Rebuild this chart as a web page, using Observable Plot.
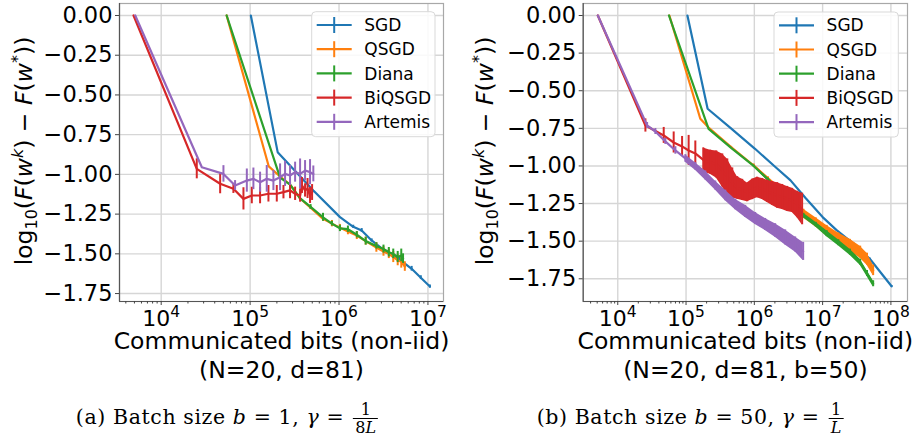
<!DOCTYPE html>
<html><head><meta charset="utf-8">
<script src="https://cdn.jsdelivr.net/npm/d3@7"></script>
<script src="https://cdn.jsdelivr.net/npm/@observablehq/plot@0.6"></script>
<style>
html,body{margin:0;padding:0;background:#fff}
body{width:915px;height:437px;overflow:hidden;position:relative;font-family:"DejaVu Sans"}
#a{position:absolute;left:0;top:0}
#b{position:absolute;left:457px;top:0}
.cap{position:absolute;top:401px;font-family:"DejaVu Serif";font-size:20.5px;letter-spacing:0.6px;white-space:nowrap;transform:translateX(-50%);line-height:26px}
.cap i{font-style:italic}
.frac{display:inline-flex;flex-direction:column;align-items:center;vertical-align:middle;font-size:16px;line-height:17px;margin-left:2px;letter-spacing:0}
.frac .num{padding:0 2px}
.frac .den{border-top:1px solid #000;padding:0 2px}
</style>
</head><body>
<div id="a"></div><div id="b"></div>
<div class="cap" style="left:227px">(a) Batch size <i>b</i> = 1, <i>γ</i> = <span class="frac"><span class="num">1</span><span class="den">8<i>L</i></span></span></div>
<div class="cap" style="left:690px">(b) Batch size <i>b</i> = 50, <i>γ</i> = <span class="frac"><span class="num">1</span><span class="den"><i>L</i></span></span></div>
<script>
// ---------- shared ----------
const methods = ["SGD", "QSGD", "Diana", "BiQSGD", "Artemis"];
const colors = ["#1f77b4", "#ff7f0e", "#2ca02c", "#d62728", "#9467bd"];
const yTicks = [0, -0.25, -0.5, -0.75, -1, -1.25, -1.5, -1.75];
const xTicksA = [1e4, 1e5, 1e6, 1e7];
const xTicksB = [1e4, 1e5, 1e6, 1e7, 1e8];
const xLabel = "Communicated bits (non-iid)";
const subLabelA = "(N=20, d=81)";
const subLabelB = "(N=20, d=81, b=50)";

// ---------- panel (a): batch size 1 ----------
// lx = log10(communicated bits), y = log10 loss gap, e = error-bar half height
const a_SGD_lx = [5.008, 5.31, 5.711, 6.011, 6.16, 6.255, 6.367, 6.536, 6.68, 6.817, 6.92, 7.022];
const a_SGD_y  = [0, -0.86, -1.101, -1.269, -1.33, -1.353, -1.416, -1.49, -1.535, -1.594, -1.65, -1.706];
const a_SGD_e  = [0, 0, 0, 0, 0.01, 0.012, 0.01, 0.012, 0.012, 0.015, 0.012, 0.01];

const a_QSGD_lx = [4.736, 5.21, 5.33, 5.45, 5.56, 5.68, 5.82, 5.92, 6.01, 6.1, 6.2, 6.3, 6.42, 6.5, 6.56, 6.61, 6.66, 6.7, 6.74];
const a_QSGD_y  = [0, -0.95, -1.01, -1.065, -1.15, -1.21, -1.28, -1.31, -1.335, -1.36, -1.385, -1.42, -1.46, -1.485, -1.5, -1.52, -1.54, -1.55, -1.58];
const a_QSGD_e  = [0, 0, 0, 0, 0, 0.01, 0.015, 0.02, 0.02, 0.02, 0.025, 0.025, 0.03, 0.03, 0.03, 0.035, 0.035, 0.04, 0.03];

const a_Diana_lx = [4.736, 5.337, 5.45, 5.56, 5.68, 5.82, 5.92, 6.01, 6.1, 6.2, 6.3, 6.42, 6.5, 6.56, 6.61, 6.66, 6.7, 6.72];
const a_Diana_y  = [0, -1.02, -1.065, -1.15, -1.205, -1.27, -1.31, -1.34, -1.345, -1.38, -1.42, -1.45, -1.47, -1.49, -1.5, -1.52, -1.51, -1.53];
const a_Diana_e  = [0, 0, 0, 0.01, 0.015, 0.025, 0.015, 0.02, 0.02, 0.02, 0.025, 0.02, 0.025, 0.03, 0.03, 0.035, 0.04, 0.03];

const a_BiQSGD_lx = [3.689, 4.40, 4.663, 4.812, 4.925, 5.019, 5.112, 5.206, 5.30, 5.375, 5.449, 5.506, 5.562, 5.584, 5.618, 5.646, 5.674, 5.697];
const a_BiQSGD_y  = [0, -0.965, -1.059, -1.09, -1.154, -1.133, -1.133, -1.122, -1.122, -1.112, -1.101, -1.122, -1.133, -1.07, -1.101, -1.089, -1.133, -1.114];
const a_BiQSGD_e  = [0, 0.063, 0.063, 0.03, 0.07, 0.052, 0.052, 0.052, 0.052, 0.042, 0.052, 0.042, 0.042, 0.05, 0.042, 0.063, 0.05, 0.05];

const a_Artemis_lx = [3.708, 4.457, 4.70, 4.831, 4.963, 5.037, 5.112, 5.187, 5.262, 5.337, 5.393, 5.449, 5.506, 5.562, 5.618, 5.674, 5.711];
const a_Artemis_y  = [0, -0.955, -0.997, -1.07, -1.039, -1.028, -1.049, -1.028, -1.039, -1.018, -0.997, -1.007, -0.986, -0.997, -0.976, -0.986, -0.997];
const a_Artemis_e  = [0, 0, 0.052, 0.031, 0.073, 0.068, 0.063, 0.084, 0.063, 0.084, 0.079, 0.063, 0.063, 0.094, 0.063, 0.079, 0.05];

// ---------- panel (b): batch size 50 ----------
const b_SGD_lx = [5.02, 5.316, 5.65, 6.01, 6.3, 6.53, 6.75, 7.0, 7.2, 7.45, 7.69, 8.01];
const b_SGD_y  = [0, -0.62, -0.747, -0.886, -1.004, -1.096, -1.213, -1.34, -1.425, -1.517, -1.617, -1.80];
const b_SGD_e  = [0, 0, 0, 0, 0, 0, 0, 0, 0, 0.005, 0.005, 0.005];

const b_QSGD_lx = [4.756, 5.209, 5.33, 5.66, 5.99, 6.2, 6.43, 6.58, 6.72, 6.9, 7.06, 7.23, 7.4, 7.55, 7.65, 7.74];
const b_QSGD_y  = [0, -0.686, -0.745, -0.875, -0.997, -1.087, -1.185, -1.25, -1.318, -1.375, -1.43, -1.48, -1.528, -1.573, -1.62, -1.694];
const b_QSGD_e  = [0, 0, 0, 0.005, 0.01, 0.015, 0.02, 0.025, 0.03, 0.03, 0.035, 0.035, 0.04, 0.04, 0.04, 0.035];
const b_QSGD_denseFrom = 5.99;

const b_Diana_lx = [4.75, 5.33, 5.66, 5.99, 6.2, 6.43, 6.58, 6.72, 6.9, 7.06, 7.23, 7.4, 7.55, 7.65, 7.74];
const b_Diana_y  = [0, -0.753, -0.88, -1.0, -1.09, -1.19, -1.26, -1.33, -1.39, -1.45, -1.51, -1.573, -1.64, -1.715, -1.783];
const b_Diana_e  = [0, 0, 0, 0.005, 0.01, 0.01, 0.015, 0.015, 0.015, 0.02, 0.02, 0.02, 0.02, 0.02, 0.02];
const b_Diana_denseFrom = 5.99;

const b_BiQSGD_lx = [3.708, 4.405, 4.673, 4.819, 4.942, 5.038, 5.136, 5.253, 5.355, 5.443, 5.531, 5.604, 5.677, 5.75, 5.823, 5.896, 5.969, 6.042, 6.115, 6.188, 6.262, 6.335, 6.408, 6.481, 6.554, 6.627, 6.70];
const b_BiQSGD_y  = [0, -0.731, -0.797, -0.844, -0.87, -0.897, -0.917, -0.96, -0.975, -0.99, -1.03, -1.073, -1.113, -1.146, -1.159, -1.176, -1.156, -1.143, -1.153, -1.169, -1.183, -1.196, -1.206, -1.219, -1.229, -1.256, -1.286];
const b_BiQSGD_e  = [0, 0.044, 0.053, 0.07, 0.066, 0.1, 0.083, 0.08, 0.08, 0.09, 0.11, 0.12, 0.1, 0.075, 0.07, 0.062, 0.068, 0.068, 0.07, 0.074, 0.08, 0.085, 0.083, 0.083, 0.08, 0.088, 0.105];
const b_BiQSGD_denseFrom = 5.25;

const b_Artemis_lx = [3.708, 4.43, 4.551, 4.697, 4.844, 4.99, 5.136, 5.282, 5.428, 5.575, 5.721, 5.867, 6.013, 6.159, 6.305, 6.452, 6.598, 6.715];
const b_Artemis_y  = [0, -0.731, -0.771, -0.837, -0.897, -0.95, -1.003, -1.063, -1.13, -1.196, -1.256, -1.302, -1.349, -1.389, -1.429, -1.475, -1.522, -1.568];
const b_Artemis_e  = [0, 0.02, 0.02, 0.02, 0.025, 0.025, 0.025, 0.03, 0.03, 0.035, 0.035, 0.04, 0.04, 0.04, 0.045, 0.05, 0.05, 0.06];
const b_Artemis_denseFrom = 4.99;

// ---------- build ----------
function rowsOf(lx, y, e) { return lx.map((v, i) => ({x: Math.pow(10, v), y: y[i], e: e[i]})); }

function minorTicks(lo, hi) {
  const out = [];
  for (let k = Math.floor(lo); k <= Math.ceil(hi); k++)
    for (let m = 2; m <= 9; m++) { const v = m * Math.pow(10, k); if (Math.log10(v) >= lo && Math.log10(v) <= hi) out.push(v); }
  return out;
}
const fmtY = d3.format(".2f");

function panel(cfg) {
  const marks = [];
  marks.push(Plot.gridX(cfg.xTicks, {stroke: "#d6d6d6", strokeOpacity: 1, strokeWidth: 1.4}));
  marks.push(Plot.gridY(yTicks, {stroke: "#d6d6d6", strokeOpacity: 1, strokeWidth: 1.4}));
  marks.push(Plot.frame({stroke: "#a8a8a8", strokeWidth: 1.2}));
  cfg.series.forEach((s, i) => {
    const col = colors[i];
    const rows = rowsOf(s.lx, s.y, s.e);
    if (s.dense != null) {
      marks.push(Plot.areaY(rows.filter(r => r.x >= Math.pow(10, s.dense) * 0.999), {x: "x", y1: r => r.y - r.e, y2: r => r.y + r.e, fill: col, fillOpacity: 1}));
    }
    marks.push(Plot.line(rows, {x: "x", y: "y", stroke: col, strokeWidth: 2.2}));
    marks.push(Plot.ruleX(rows.filter(r => r.e > 0), {x: "x", y1: r => r.y - r.e, y2: r => r.y + r.e, stroke: col, strokeWidth: 2}));
  });
  marks.push(Plot.ruleX([cfg.xDomain[0]], {stroke: "#555", strokeWidth: 1.2}));
  marks.push(Plot.ruleY([cfg.yDomain[0]], {stroke: "#555", strokeWidth: 1.2}));
  marks.push(Plot.axisX(minorTicks(Math.log10(cfg.xDomain[0]), Math.log10(cfg.xDomain[1])), {tickFormat: () => "", tickSize: 2.5, stroke: "#444", label: null}));
  marks.push(Plot.axisX(cfg.xTicks, {tickFormat: () => "", tickSize: 4, stroke: "#444", label: null}));
  marks.push(Plot.axisY(yTicks, {tickFormat: () => "", tickSize: 4, stroke: "#444", label: null}));
  // tick labels as text marks
  marks.push(Plot.text(cfg.xTicks, {x: d => d, text: d => "10^" + Math.round(Math.log10(d)), frameAnchor: "bottom", lineAnchor: "bottom", dy: 24, fontSize: 22}));
  marks.push(Plot.text(yTicks, {y: d => d, text: d => fmtY(d), frameAnchor: "left", textAnchor: "end", dx: -7, fontSize: 22.5}));
  marks.push(Plot.text([xLabel], {text: d => d, frameAnchor: "bottom", lineAnchor: "bottom", dy: 47, fontSize: 23.5}));
  marks.push(Plot.text([cfg.sub], {text: d => d, frameAnchor: "bottom", lineAnchor: "bottom", dy: 76, fontSize: 23.5}));

  const svg = Plot.plot({
    width: cfg.width, height: 385,
    marginLeft: cfg.mL, marginRight: cfg.mR, marginTop: 3, marginBottom: 84,
    x: {type: "log", domain: cfg.xDomain},
    y: {domain: cfg.yDomain},
    style: {fontFamily: "DejaVu Sans", background: "white", overflow: "visible"},
    marks
  });
  const sel = d3.select(svg);
  // power-of-ten tick labels: 10 with a raised exponent
  sel.selectAll("text").each(function() {
    const el = d3.select(this);
    const m = /^10\^(\d)$/.exec(el.text());
    if (m) {
      el.text("10");
      el.append("tspan").attr("font-size", 15.5).attr("dy", -9).text(m[1]);
    }
  });
  // y label
  const t = sel.append("text")
    .attr("transform", `translate(${cfg.yLabelX},151) rotate(-90)`)
    .attr("text-anchor", "middle").attr("font-size", 23.5).attr("font-family", "DejaVu Sans").attr("fill", "black");
  t.append("tspan").text("log");
  t.append("tspan").attr("font-size", 16).attr("dy", 5).text("10");
  t.append("tspan").attr("dy", -5).text("(");
  t.append("tspan").attr("font-style", "italic").text("F");
  t.append("tspan").text("(");
  t.append("tspan").attr("font-style", "italic").text("w");
  t.append("tspan").attr("font-style", "italic").attr("font-size", 16).attr("dy", -9).text("k");
  t.append("tspan").attr("dy", 9).text(") − ");
  t.append("tspan").attr("font-style", "italic").text("F");
  t.append("tspan").text("(");
  t.append("tspan").attr("font-style", "italic").text("w");
  t.append("tspan").attr("font-size", 16).attr("dy", -9).text("*");
  t.append("tspan").attr("dy", 9).text("))");
  // legend
  const L = cfg.legend;
  const g = sel.append("g");
  g.append("rect").attr("x", L.x).attr("y", L.y).attr("width", L.w).attr("height", L.h)
    .attr("rx", 4).attr("fill", "white").attr("fill-opacity", 0.85).attr("stroke", "#d9d9d9").attr("stroke-width", 1);
  methods.forEach((m, i) => {
    const yy = L.y + 13.3 + i * 24.2;
    g.append("line").attr("x1", L.x + 5).attr("x2", L.x + 40).attr("y1", yy).attr("y2", yy).attr("stroke", colors[i]).attr("stroke-width", 2.2);
    g.append("line").attr("x1", L.x + 22.5).attr("x2", L.x + 22.5).attr("y1", yy - 8).attr("y2", yy + 8).attr("stroke", colors[i]).attr("stroke-width", 2);
    g.append("text").attr("x", L.x + 52.6).attr("y", yy).attr("dy", "0.36em").attr("text-anchor", "start")
      .attr("font-size", 17).attr("font-family", "DejaVu Sans").attr("fill", "black").text(m);
  });
  return svg;
}

const svgA = panel({
  width: 457, mL: 119, mR: 14,
  xDomain: [Math.pow(10, 3.531), Math.pow(10, 7.175)], yDomain: [-1.800, 0.0755],
  xTicks: xTicksA, sub: subLabelA, yLabelX: 32,
  legend: {x: 311.7, y: 11.7, w: 123.3, h: 125},
  series: [
    {lx: a_SGD_lx, y: a_SGD_y, e: a_SGD_e},
    {lx: a_QSGD_lx, y: a_QSGD_y, e: a_QSGD_e},
    {lx: a_Diana_lx, y: a_Diana_y, e: a_Diana_e},
    {lx: a_BiQSGD_lx, y: a_BiQSGD_y, e: a_BiQSGD_e},
    {lx: a_Artemis_lx, y: a_Artemis_y, e: a_Artemis_e}
  ]
});
document.getElementById("a").append(svgA);

const svgB = panel({
  width: 458, mL: 125.7, mR: 8,
  xDomain: [Math.pow(10, 3.494), Math.pow(10, 8.243)], yDomain: [-1.901, 0.0798],
  xTicks: xTicksB, sub: subLabelB, yLabelX: 36,
  legend: {x: 317, y: 12, w: 124.3, h: 125},
  series: [
    {lx: b_SGD_lx, y: b_SGD_y, e: b_SGD_e},
    {lx: b_QSGD_lx, y: b_QSGD_y, e: b_QSGD_e, dense: b_QSGD_denseFrom},
    {lx: b_Diana_lx, y: b_Diana_y, e: b_Diana_e, dense: b_Diana_denseFrom},
    {lx: b_BiQSGD_lx, y: b_BiQSGD_y, e: b_BiQSGD_e, dense: b_BiQSGD_denseFrom},
    {lx: b_Artemis_lx, y: b_Artemis_y, e: b_Artemis_e, dense: b_Artemis_denseFrom}
  ]
});
document.getElementById("b").append(svgB);
</script>
</body></html>
